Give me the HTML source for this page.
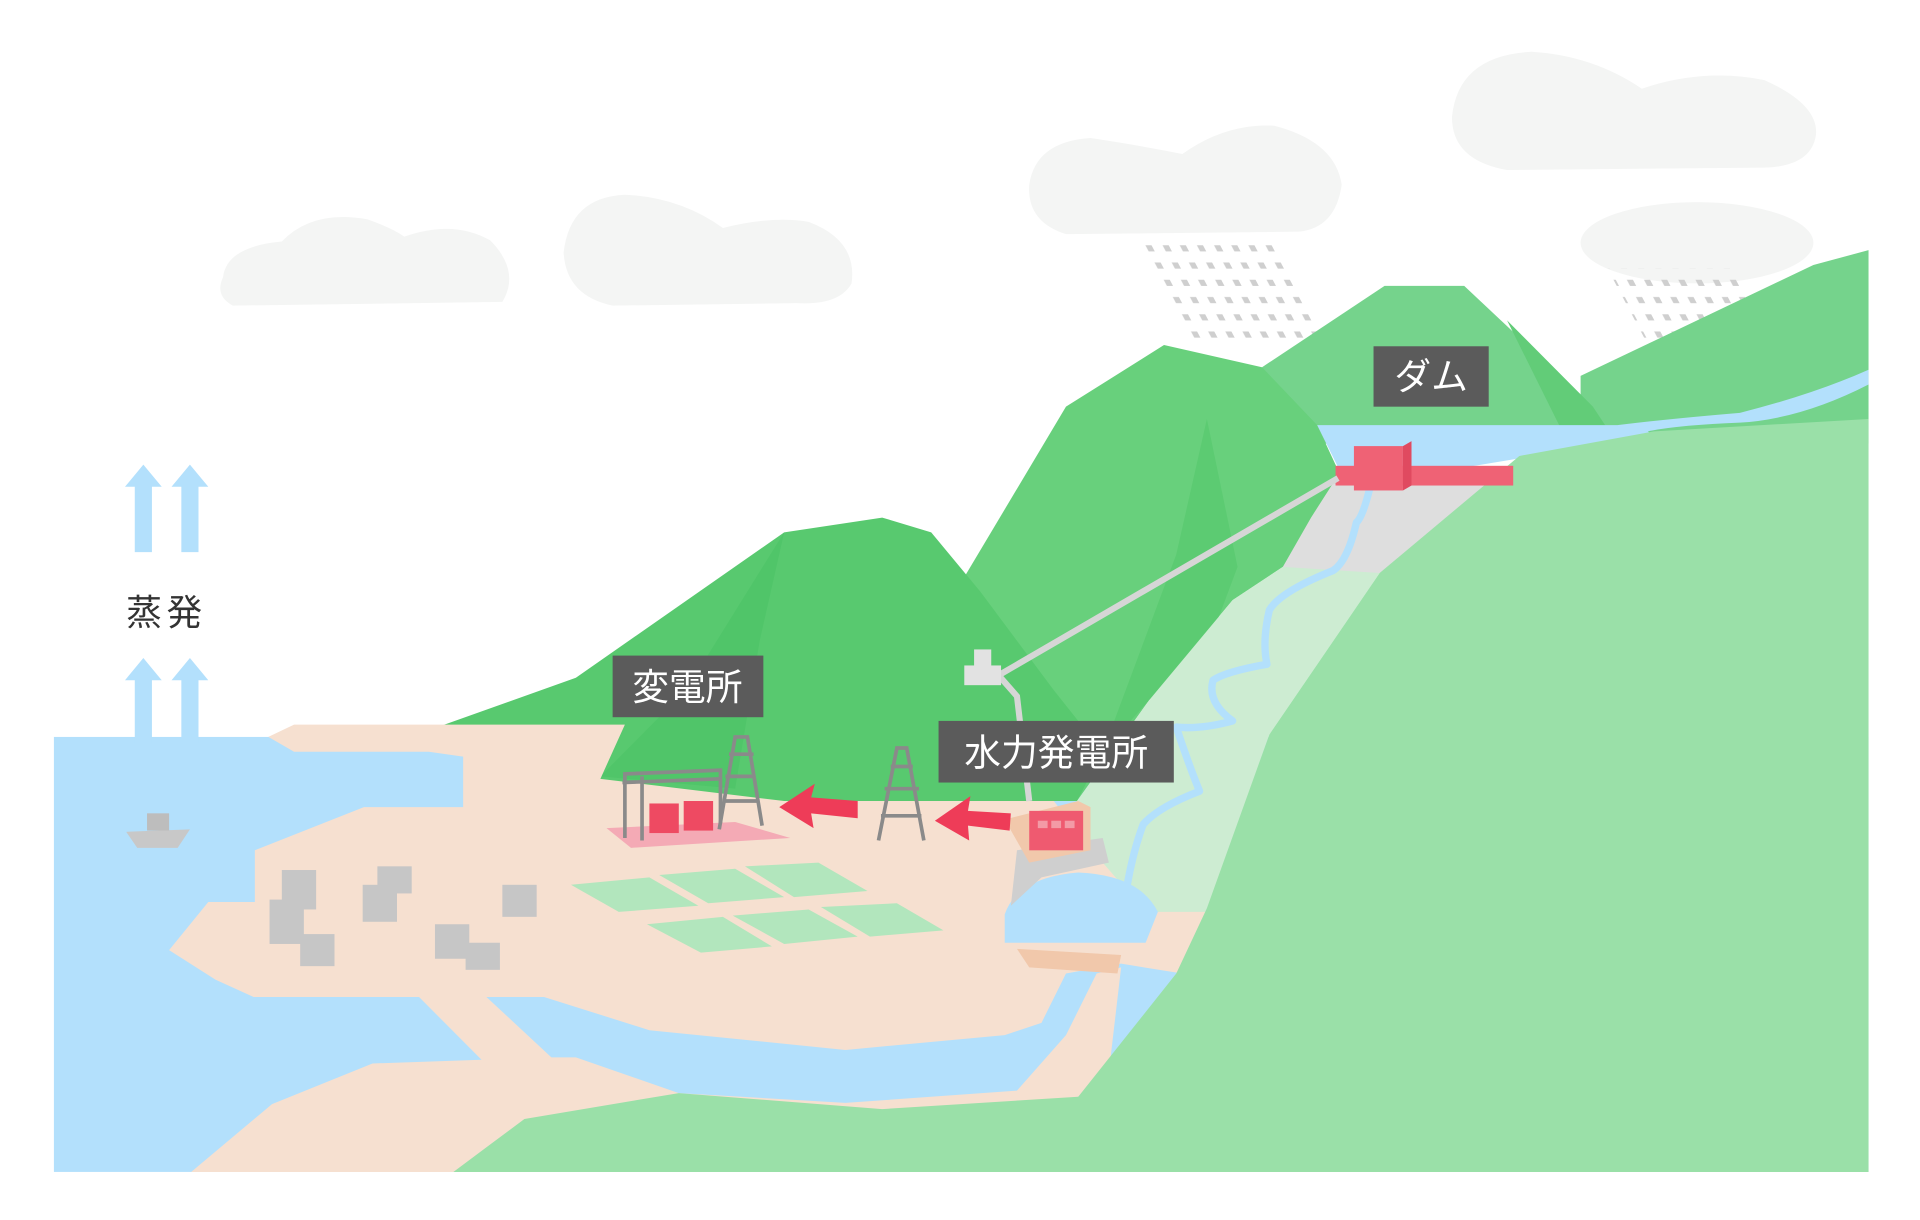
<!DOCTYPE html>
<html><head><meta charset="utf-8"><style>
html,body{margin:0;padding:0;background:#fff;}
svg{display:block;}
</style></head><body>
<svg width="1920" height="1220" viewBox="0 0 1567 990" preserveAspectRatio="none" xmlns="http://www.w3.org/2000/svg">
<defs>
<pattern id="rain" width="14" height="14" patternUnits="userSpaceOnUse" patternTransform="skewX(28)">
<rect x="3" y="3" width="5" height="5" fill="#cfcfcf"/>
</pattern>
</defs>
<rect width="1567" height="990" fill="#fff"/>
<!-- clouds -->
<g fill="#f4f5f4">
<path d="M182,225 Q185,200 230,196 Q255,170 300,178 Q320,185 330,192 Q370,178 400,195 Q425,220 410,245 L190,248 Q175,240 182,225Z"/>
<path d="M460,205 Q465,160 510,158 Q555,160 590,185 Q630,175 660,180 Q700,195 695,230 Q685,248 650,246 L500,248 Q462,240 460,205Z"/>
<path d="M840,150 Q845,115 890,112 Q930,118 965,125 Q1000,100 1040,102 Q1090,115 1095,150 Q1090,185 1060,188 L870,190 Q838,180 840,150Z"/>
<path d="M1185,95 Q1190,45 1250,42 Q1300,45 1340,72 Q1390,55 1440,65 Q1485,85 1482,110 Q1478,135 1440,136 L1230,138 Q1185,130 1185,95Z"/>
<ellipse cx="1385" cy="197" rx="95" ry="33"/>
</g>
<!-- rain -->
<polygon points="928,192 1035,192 1080,275 975,275" fill="url(#rain)"/>
<polygon points="1312,218 1420,218 1470,308 1360,308" fill="url(#rain)"/>
<!-- sea -->
<rect x="44" y="598" width="1481" height="353" fill="#b3e0fc"/>
<!-- far right mountain -->
<polygon points="1290,305 1480,215 1525,203 1525,360 1290,360" fill="#75d38c"/>
<!-- dam mountain -->
<polygon points="1030,298 1130,232 1195,232 1300,330 1320,360 1060,360" fill="#75d38c"/>
<polygon points="1230,260 1300,330 1320,360 1280,360" fill="#62cc78"/>
<!-- middle mountain -->
<polygon points="870,330 950,280 1030,298 1075,345 1110,420 1047,460 1006,487 938,568 879,650 780,650 780,480" fill="#68d07c"/>
<polygon points="985,340 1010,460 980,540 938,568 900,610 960,450" fill="#5ccb72"/>
<!-- front mountain -->
<polygon points="357,590 470,550 640,432 720,420 760,432 800,480 860,560 900,610 879,650 490,650 486,600" fill="#58c96f"/>
<polygon points="640,432 560,560 490,630 600,640 620,520" fill="#50c569"/>
<!-- lake -->
<path d="M1075,345 L1320,345 Q1360,340 1420,335 Q1480,320 1525,300 L1525,312 Q1470,340 1420,343 Q1370,345 1345,350 Q1360,365 1340,372 L1240,372 L1100,395Z" fill="#b3e0fc"/>
<!-- light strip -->
<polygon points="1047,460 1100,430 1180,430 1126,465 1036,596 985,740 920,742 870,700 879,650 938,568 1006,487" fill="#cdecd2"/>
<!-- dam face -->
<polygon points="1088,392 1235,390 1160,440 1126,465 1047,460 1070,420" fill="#dedede"/>
<path d="M1118,396 Q1112,420 1107,424 Q1100,455 1088,463 Q1045,480 1036,495 Q1030,520 1034,539 Q1000,545 990,552 Q985,570 1006,585 Q980,592 960,590 Q970,620 979,642 Q945,655 933,669 Q925,690 920,718" fill="none" stroke="#b3e0fc" stroke-width="6" stroke-linejoin="round"/>
<!-- land upper -->
<polygon points="219,598 240,588 510,588 490,632 640,650 860,650 900,700 935,740 985,740 965,790 915,782 870,790 850,830 820,840 690,852 530,836 444,809 397,809 342,809 207,809 176,795 138,771 170,732 208,732 208,690 297,655 378,655 378,614 350,610 240,610" fill="#f6e0d0"/>
<!-- land lower -->
<polygon points="156,951 222,896 304,863 393,860 342,809 397,809 450,858 470,858 554,887 690,895 830,885 870,840 895,790 915,785 905,870 880,890 370,951" fill="#f6e0d0"/>
<!-- pond -->
<path d="M820,742 Q830,712 880,708 Q930,710 945,740 L935,765 L820,765Z" fill="#b3e0fc"/>
<polygon points="830,770 915,775 912,790 840,785" fill="#f1c8ab"/>
<polygon points="830,690 900,680 905,700 850,712 825,735" fill="#cfcfcf"/>
<polygon points="820,665 880,650 890,655 890,690 840,700" fill="#f1c8ab"/>
<!-- front green hill -->
<polygon points="370,951 428,908 554,887 720,900 880,890 960,790 985,737 1036,596 1126,465 1240,370 1350,350 1525,340 1525,951" fill="#9ae0a8"/>
<!-- dam red -->
<rect x="1090" y="378" width="145" height="16" fill="#ef6275"/>
<rect x="1105" y="362" width="40" height="36" fill="#ef6275"/>
<polygon points="1145,362 1152,358 1152,394 1145,398" fill="#e04a60"/>
<!-- pipe -->
<polyline points="1092,388 815,548 830,565 840,650" fill="none" stroke="#d6d6d6" stroke-width="5"/>
<rect x="795" y="527" width="14" height="18" fill="#e2e2e2"/>
<rect x="787" y="540" width="30" height="16" fill="#e2e2e2"/>
<!-- fields -->
<g fill="#b2e6bd">
<polygon points="466,718 530,712 570,735 505,740"/><polygon points="538,710 600,705 640,728 578,733"/><polygon points="608,703 668,700 708,723 648,728"/>
<polygon points="528,750 590,744 630,768 572,773"/><polygon points="598,743 660,738 700,760 640,766"/><polygon points="670,736 732,733 770,755 710,760"/>
</g>
<!-- substation -->
<polygon points="495,672 600,667 645,680 515,688" fill="#f4aab5"/>
<g stroke="#8a8a8a" stroke-width="3" fill="none">
<polyline points="510,680 510,628 588,625 588,668"/><line x1="524" y1="682" x2="524" y2="630"/><line x1="508" y1="635" x2="588" y2="632"/>
<polyline points="587,673 600,598 610,598 622,670"/><line x1="592" y1="630" x2="616" y2="630"/><line x1="590" y1="650" x2="619" y2="650"/><line x1="595" y1="612" x2="615" y2="612"/>
<polyline points="717,682 732,607 740,607 754,682"/><line x1="722" y1="640" x2="750" y2="640"/><line x1="719" y1="662" x2="752" y2="662"/><line x1="727" y1="622" x2="745" y2="622"/>
</g>
<rect x="530" y="652" width="24" height="24" fill="#ee4a62"/><rect x="558" y="650" width="24" height="24" fill="#ee4a62"/>
<!-- red arrows -->
<polygon points="700,650 662,647 665,636 636,655 664,672 662,660 700,664" fill="#ee3c58"/>
<polygon points="825,660 790,658 792,646 763,666 791,682 790,670 824,674" fill="#ee3c58"/>
<!-- power station -->
<rect x="840" y="658" width="44" height="32" fill="#ef5a70"/>
<rect x="847" y="666" width="8" height="6" fill="#f39aa6"/><rect x="858" y="666" width="8" height="6" fill="#f39aa6"/><rect x="869" y="666" width="8" height="6" fill="#f39aa6"/>
<!-- buildings -->
<g fill="#c6c6c6">
<rect x="230" y="706" width="28" height="32"/><rect x="220" y="730" width="28" height="36"/><rect x="245" y="758" width="28" height="26"/>
<rect x="308" y="703" width="28" height="22"/><rect x="296" y="718" width="28" height="30"/>
<rect x="410" y="718" width="28" height="26"/><rect x="355" y="750" width="28" height="28"/><rect x="380" y="765" width="28" height="22"/>
</g>
<!-- boat -->
<polygon points="103,675 155,673 145,688 112,688" fill="#c8c8c8"/><rect x="120" y="660" width="18" height="14" fill="#bdbdbd"/>
<!-- evaporation arrows -->
<g fill="#b3e0fc">
<polygon points="110,448 124,448 124,395 132,395 117,377 102,395 110,395"/>
<polygon points="148,448 162,448 162,395 170,395 155,377 140,395 148,395"/>
<polygon points="110,603 124,603 124,552 132,552 117,534 102,552 110,552"/>
<polygon points="148,603 162,603 162,552 170,552 155,534 140,552 148,552"/>
</g>
<text x="103" y="507" font-family="Liberation Sans, Noto Sans CJK JP, sans-serif" font-size="29" fill="#333" letter-spacing="4">蒸発</text>
<!-- labels -->
<g font-family="Liberation Sans, Noto Sans CJK JP, sans-serif" fill="#fff">
<rect x="1121" y="281" width="94" height="49" fill="#5b5b5b"/>
<text x="1168" y="316" font-size="30" text-anchor="middle">ダム</text>
<rect x="500" y="532" width="123" height="50" fill="#5b5b5b"/>
<text x="561" y="568" font-size="30" text-anchor="middle">変電所</text>
<rect x="766" y="585" width="192" height="50" fill="#5b5b5b"/>
<text x="862" y="621" font-size="30" text-anchor="middle">水力発電所</text>
</g>
</svg>
</body></html>
